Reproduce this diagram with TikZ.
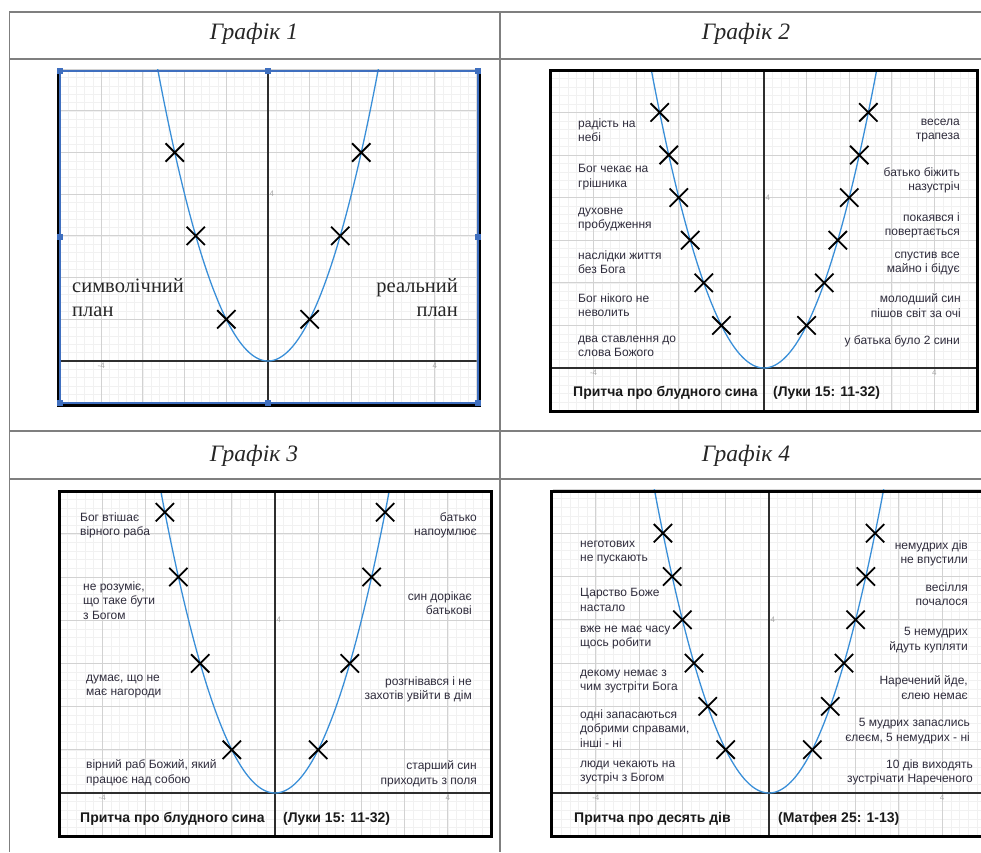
\documentclass[tikz,border=0pt]{standalone}
\usepackage{fontspec}
\setmainfont{Liberation Serif}
\setsansfont{Liberation Sans}
\usepackage{tikz}
\usetikzlibrary{shapes.misc}
\definecolor{rule}{HTML}{7F7F7F}
\definecolor{parab}{HTML}{3A8FD8}
\definecolor{handle}{HTML}{3F6FBF}
\definecolor{major}{HTML}{D2D2D2}
\definecolor{minor}{HTML}{F1F1F1}
\definecolor{axis}{HTML}{2E2E2E}
\definecolor{ink}{HTML}{2F2C3C}

\begin{document}
\begin{tikzpicture}[
  x=1pt, y=-1pt,
  tbl/.style={draw=rule, line width=1.2pt},
  head/.style={font=\fontsize{23.5}{27}\selectfont\itshape, text=black!85, anchor=base, inner sep=0pt},
  lbl/.style={font=\sffamily\fontsize{12}{14.5}\selectfont, text=ink, inner sep=0pt, execute at begin node=\strut},
  lft/.style={lbl, align=left, anchor=north west},
  rgt/.style={lbl, align=right, anchor=north east},
  plan/.style={font=\fontsize{20.5}{24.5}\selectfont, text=black!85, inner sep=0pt, execute at begin node=\strut},
  ttl/.style={font=\sffamily\bfseries\fontsize{14}{16}\selectfont, text=black!90, anchor=base west, inner sep=0pt},
  xmark/.style={cross out, draw=black, line width=1.8pt, minimum size=16.5pt, inner sep=0pt},
  tick/.style={font=\sffamily\fontsize{8}{9}\selectfont, text=black!35, inner sep=1.5pt},
  minorline/.style={draw=minor, line width=0.5pt},
  majorline/.style={draw=major, line width=1pt},
  axisline/.style={draw=axis, line width=1.2pt},
  curve/.style={draw=parab, line width=1.3pt},
  frame/.style={draw=black, line width=3pt}
]
\useasboundingbox (0,0) rectangle (981,852);

\draw[tbl] (981,12) -- (9.5,12) -- (9.5,852);
\draw[tbl] (9.5,59) -- (981,59);
\draw[tbl] (9.5,431) -- (981,431);
\draw[tbl] (9.5,479) -- (981,479);
\draw[tbl] (500,12) -- (500,852);

\node[head] (h1) at (254,39) {Графік 1};
\node[head] (h2) at (746,39) {Графік 2};
\node[head] (h3) at (254,461) {Графік 3};
\node[head] (h4) at (746,461) {Графік 4};

\foreach \g/\ox/\oy/\sc/\ys in {1/268/361/41.7/{1,3,5}, 2/764/368/42.6/{1,2,3,4,5,6},
    3/275/793/43.2/{1,3,5,6.5}, 4/769/793/43.3/{1,2,3,4,5,6}}{
  \begin{scope}[shift={(\ox,\oy)}, x=\sc pt, y=\sc pt]
    \begin{scope}
      \clip (-5,-1) rectangle (5,7);
      \foreach \i in {-25,...,25} \draw[minorline] (\i/5,-1) -- (\i/5,7);
      \foreach \j in {-5,...,35} \draw[minorline] (-5,\j/5) -- (5,\j/5);
      \foreach \i in {-5,...,5} \draw[majorline] (\i,-1) -- (\i,7);
      \foreach \j in {-1,...,7} \draw[majorline] (-5,\j) -- (5,\j);
      \draw[axisline] (-5,0) -- (5,0) (0,-1) -- (0,7);
      \draw[curve] plot[domain=-2.65:2.65, samples=90] (\x,{\x*\x});
    \end{scope}
    \node[tick, anchor=north] (t\g a) at (-4,0) {-4};
    \node[tick, anchor=north] (t\g b) at (4,0) {4};
    \node[tick, anchor=west] (t\g c) at (0,4) {4};
    \foreach \y [count=\k] in \ys {
      \node[xmark] (c\g l\k) at ({-sqrt(\y)},\y) {};
      \node[xmark] (c\g r\k) at ({sqrt(\y)},\y) {};
    }
  \end{scope}
}

\draw[black, line width=2.5pt] (58.5,70) -- (58.5,405.5) -- (480,405.5) -- (480,70);
\draw[handle, line width=2pt] (60,71) rectangle (478,403);
\foreach \hx/\hy in {60/71, 268/71, 478/71, 60/237, 478/237, 60/403, 268/403, 478/403}
  \fill[handle] (\hx-3,\hy-3) rectangle +(6,6);
\draw[frame] (550.5,70) rectangle (977,411);
\draw[frame] (59,491) rectangle (491,836);
\draw[frame] (551,491) rectangle (986,836);

\node[plan, align=left, anchor=north west] (p1) at (72,278) {символічний\\план};
\node[plan, align=right, anchor=north east] (p2) at (458,278) {реальний\\план};

\node[lft] (a1) at (578,118.4) {радість на\\небі};
\node[lft] (a2) at (578,164.4) {Бог чекає на\\грішника};
\node[lft] (a3) at (578,207.4) {духовне\\пробудження};
\node[lft] (a4) at (578,250.4) {наслідки життя\\без Бога};
\node[lft] (a5) at (578,293.4) {Бог нікого не\\неволить};
\node[lft] (a6) at (578,335.4) {два ставлення до\\слова Божого};
\node[rgt] (b1) at (960,118.4) {весела\\трапеза};
\node[rgt] (b2) at (960,167.4) {батько біжить\\назустріч};
\node[rgt] (b3) at (960,212.4) {покаявся і\\повертається};
\node[rgt] (b4) at (960,251.4) {спустив все\\майно і бідує};
\node[rgt] (b5) at (961,293.4) {молодший син\\пішов світ за очі};
\node[rgt] (b6) at (960,334.4) {у батька було 2 сини};
\node[ttl] (s2) at (573,396.5) {Притча про блудного сина};
\node[ttl] (r2) at (773,396.5) {(Луки 15: 11-32)};

\node[lft] (d1) at (80,512.4) {Бог втішає\\вірного раба};
\node[lft] (d2) at (83,581.4) {не розуміє,\\що таке бути\\з Богом};
\node[lft] (d3) at (86,674.4) {думає, що не\\має нагороди};
\node[lft] (d4) at (86,759.4) {вірний раб Божий, який\\працює над собою};
\node[rgt] (e1) at (477,512.4) {батько\\напоумлює};
\node[rgt] (e2) at (472,591.4) {син дорікає\\батькові};
\node[rgt] (e3) at (472,676.4) {розгнівався і не\\захотів увійти в дім};
\node[rgt] (e4) at (477,760.4) {старший син\\приходить з поля};
\node[ttl] (s3) at (80,822.5) {Притча про блудного сина};
\node[ttl] (r3) at (283,822.5) {(Луки 15: 11-32)};

\node[lft] (f1) at (580,540.4) {неготових\\не пускають};
\node[lft] (f2) at (580,588.4) {Царство Боже\\настало};
\node[lft] (f3) at (580,625.4) {вже не має часу\\щось робити};
\node[lft] (f4) at (580,669.4) {декому немає з\\чим зустріти Бога};
\node[lft] (f5) at (580,709.4) {одні запасаються\\добрими справами,\\інші - ні};
\node[lft] (f6) at (580,760.4) {люди чекають на\\зустріч з Богом};
\node[rgt] (k1) at (968,540.4) {немудрих дів\\не впустили};
\node[rgt] (k2) at (968,582.4) {весілля\\почалося};
\node[rgt] (k3) at (968,627.4) {5 немудрих\\йдуть купляти};
\node[rgt] (k4) at (968,675.4) {Наречений йде,\\єлею немає};
\node[rgt] (k5) at (970,718.4) {5 мудрих запаслись\\єлеєм, 5 немудрих - ні};
\node[rgt] (k6) at (973,759.4) {10 дів виходять\\зустрічати Нареченого};
\node[ttl] (s4) at (574,822.5) {Притча про десять дів};
\node[ttl] (r4) at (778,822.5) {(Матфея 25: 1-13)};
\end{tikzpicture}
\end{document}
